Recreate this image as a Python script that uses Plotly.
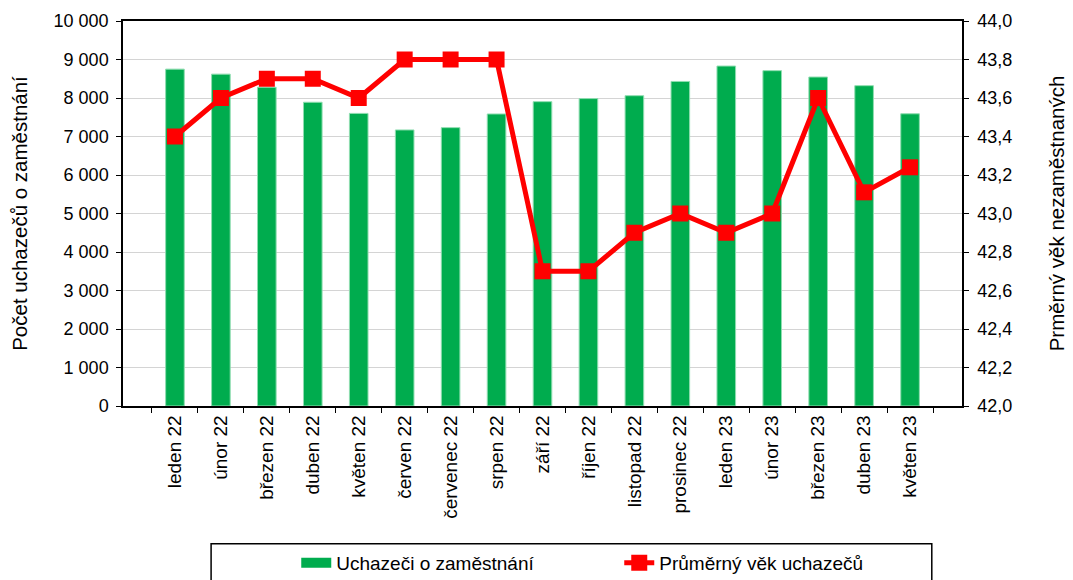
import plotly.graph_objects as go

mesice = ["leden 22", "únor 22", "březen 22", "duben 22", "květen 22", "červen 22",
          "červenec 22", "srpen 22", "září 22", "říjen 22", "listopad 22", "prosinec 22",
          "leden 23", "únor 23", "březen 23", "duben 23", "květen 23"]

uchazeci = [8750, 8620, 8280, 7890, 7600, 7170, 7230, 7585, 7905, 7985, 8060, 8430,
            8830, 8710, 8545, 8320, 7590]

prumerny_vek = [43.4, 43.6, 43.7, 43.7, 43.6, 43.8, 43.8, 43.8, 42.7, 42.7, 42.9, 43.0,
                42.9, 43.0, 43.6, 43.11, 43.24]

zelena = "#00AC4E"
cervena = "#FF0000"
font = "Liberation Sans, Arial, sans-serif"

fig = go.Figure()

fig.add_trace(go.Bar(x=mesice, y=uchazeci, name="Uchazeči o zaměstnání",
                     marker=dict(color=zelena, line=dict(color="#8FDDB0", width=1)),
                     showlegend=False))
# jen pro legendu (široký zelený pruh jako v originále)
fig.add_trace(go.Scatter(x=[None], y=[None], mode="lines", name="Uchazeči o zaměstnání",
                         line=dict(color=zelena, width=10)))
fig.add_trace(go.Scatter(x=mesice, y=prumerny_vek, name="Průměrný věk uchazečů",
                         yaxis="y2", mode="lines+markers",
                         line=dict(color=cervena, width=5),
                         marker=dict(symbol="square", size=16, color=cervena)))

# stránka má okraj 8 px, proto je graf o 8 px menší
fig.update_layout(
    width=1065, height=572,
    margin=dict(l=115, r=111, t=13, b=174, autoexpand=False),
    paper_bgcolor="white", plot_bgcolor="white",
    font=dict(family=font, size=18, color="black"),
    separators=", ",
    bargap=0.595,
    xaxis=dict(type="category", tickangle=-90, tickson="boundaries",
               ticks="outside", ticklen=5, tickcolor="black",
               tickfont=dict(size=19),
               showline=True, linecolor="black", linewidth=1.5, mirror=True,
               showgrid=False, automargin=False),
    yaxis=dict(range=[0, 10000], dtick=1000, tickformat=",d",
               ticks="outside", ticklen=5, tickcolor="black", ticklabelstandoff=4,
               showline=True, linecolor="black", linewidth=1.5,
               showgrid=True, gridcolor="#D4D4D4", gridwidth=1, zeroline=False,
               title=dict(text="Počet uchazečů o zaměstnání", font=dict(size=20.5), standoff=26),
               automargin=False),
    yaxis2=dict(range=[42, 44], dtick=0.2, tickformat=".1f", overlaying="y", side="right",
                ticks="outside", ticklen=5, tickcolor="black", ticklabelstandoff=5,
                showline=True, linecolor="black", linewidth=1.5,
                showgrid=False, zeroline=False,
                title=dict(text="Prměrný věk nezaměstnaných", font=dict(size=20.5), standoff=38),
                automargin=False),
    legend=dict(orientation="h", x=0.2065, y=-0.358, xanchor="left", yanchor="top",
                entrywidth=278, entrywidthmode="pixels",
                font=dict(size=19), bgcolor="rgba(0,0,0,0)", borderwidth=0),
    shapes=[dict(type="rect", xref="paper", yref="paper",
                 x0=0.105, x1=0.964, y0=-0.358, y1=-0.47,
                 line=dict(color="black", width=1.5), fillcolor="rgba(0,0,0,0)")],
)

fig.write_html("out.html")
